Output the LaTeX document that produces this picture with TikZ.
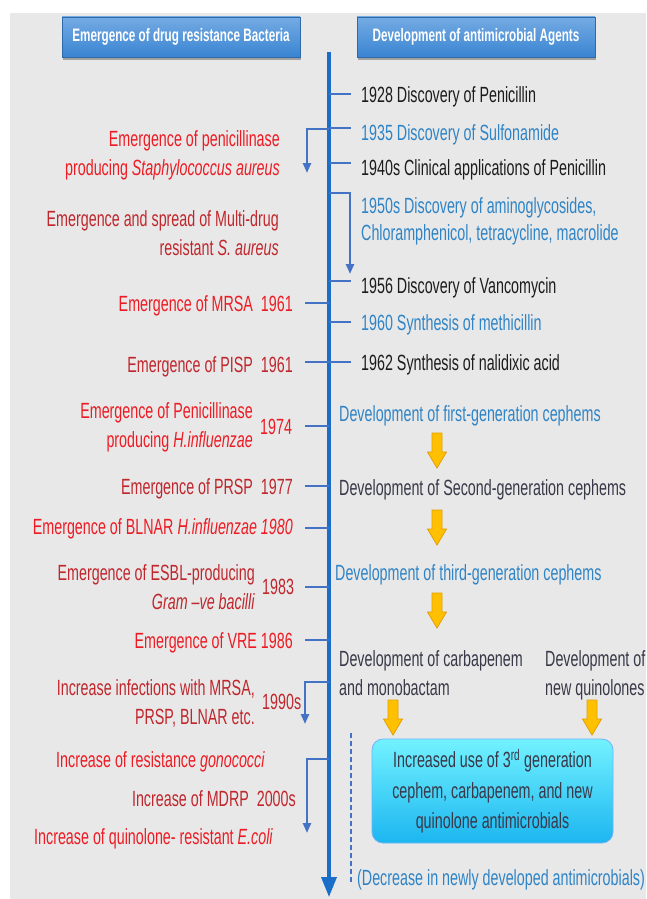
\documentclass[tikz,border=0pt]{standalone}
\usepackage{fontspec}
\setmainfont[FakeStretch=0.65]{Liberation Sans}
\usetikzlibrary{arrows.meta,shadows}
\definecolor{bgc}{HTML}{E8E8E8}
\definecolor{redA}{HTML}{ED1C24}
\definecolor{redB}{HTML}{C0272D}
\definecolor{bluT}{HTML}{2F84C6}
\definecolor{blkT}{HTML}{1C1C1C}
\definecolor{gryT}{HTML}{383848}
\definecolor{tlc}{HTML}{1A6EC8}
\definecolor{tkc}{HTML}{4472C4}
\definecolor{hdA}{HTML}{74ABE3}
\definecolor{hdB}{HTML}{3A84D2}
\definecolor{cyA}{HTML}{72F2FF}
\definecolor{cyB}{HTML}{1CB6F0}
\definecolor{yelA}{HTML}{FFC000}
\definecolor{yelB}{HTML}{E39E00}
\tikzset{
  txt/.style={font=\fontsize{22}{29}\selectfont, inner sep=0pt},
  lt/.style={txt, anchor=north east, align=right},
  rt/.style={txt, anchor=north west, align=left},
  tick/.style={draw=tkc, line width=2.8pt},
  brk/.style={draw=tkc, line width=2.4pt, -{Triangle[width=8pt,length=10pt]}},
  hdr/.style={minimum width=238pt, minimum height=40pt, inner sep=0pt,
    top color=hdA, bottom color=hdB, draw=hdB!80!black, line width=0.4pt,
    text=white, font=\bfseries\fontsize{18}{20}\selectfont,
    drop shadow={shadow xshift=1pt, shadow yshift=-3pt, opacity=0.45, fill=black!70}},
  incbox/.style={minimum width=241pt, minimum height=104pt, inner sep=0pt,
    rounded corners=11pt, top color=cyA, bottom color=cyB, draw=cyB!70!blue!60!white,
    line width=0.8pt, text=gryT, align=center, font=\fontsize{22}{30.5}\selectfont},
  yarrow/.pic={\filldraw[fill=yelA, draw=yelB, line width=0.8pt]
    (-5,0) -- (5,0) -- (5,19) -- (9.5,19) -- (0,35) -- (-9.5,19) -- (-5,19) -- cycle;}
}
\begin{document}
\begin{tikzpicture}[x=1pt,y=-1pt]
\useasboundingbox (0,0) rectangle (646,899);
\fill[bgc] (10,13) rectangle (646,899);

% headers
\node[hdr] (hL) at (181,37) {Emergence of drug resistance Bacteria};
\node[hdr] (hR) at (476,37) {Development of antimicrobial Agents};

% timeline
\coordinate (tlTop) at (329,52);
\coordinate (tlBot) at (329,897);
\draw[tlc, line width=3.6pt, -{Triangle[width=15pt,length=20pt]}] (tlTop) -- (tlBot);

% ticks right
\foreach \yy in {94,128,163,281,322} {\draw[tick] (329,\yy) -- (351,\yy);}
% ticks both
\draw[tick] (305,362) -- (351,362);
% ticks left
\foreach \yy in {303,426,486,528,587,640} {\draw[tick] (305,\yy) -- (329,\yy);}

% brackets
\draw[brk] (329,129) -- (307,129) -- (307,173);
\draw[brk] (329,193) -- (350,193) -- (350,274);
\draw[brk] (329,682) -- (305,682) -- (305,724);
\draw[brk] (329,759) -- (307,759) -- (307,833);

% left texts
\node[lt, text=redA] (l1) at (280,130) {Emergence of penicillinase\\producing \textit{Staphylococcus aureus}};
\node[lt, text=redB] (l2) at (279,210) {Emergence and spread of Multi-drug\\resistant \textit{S. aureus}};
\node[lt, text=redA] (l3) at (293,295) {Emergence of MRSA\ \ 1961};
\node[lt, text=redB] (l4) at (293,356) {Emergence of PISP\ \ 1961};
\node[lt, text=redA] (l5) at (253,402) {Emergence of Penicillinase\\producing \textit{H.influenzae}};
\node[rt, text=redA] (l5y) at (260,419) {1974};
\node[lt, text=redB] (l6) at (293,478) {Emergence of PRSP\ \ 1977};
\node[lt, text=redA] (l7) at (293,518) {Emergence of BLNAR \textit{H.influenzae 1980}};
\node[lt, text=redB] (l8) at (255,564) {Emergence of ESBL-producing\\\textit{Gram –ve bacilli}};
\node[rt, text=redB] (l8y) at (262,579) {1983};
\node[lt, text=redA] (l9) at (293,632) {Emergence of VRE 1986};
\node[lt, text=redB] (l10) at (255,679) {Increase infections with MRSA,\\PRSP, BLNAR etc.};
\node[rt, text=redB] (l10y) at (262,694) {1990s};
\node[rt, text=redA] (l11) at (56,751) {Increase of resistance \textit{gonococci}};
\node[lt, text=redB] (l12) at (296,790) {Increase of MDRP\ \ 2000s};
\node[rt, text=redA] (l13) at (34,828) {Increase of quinolone- resistant \textit{E.coli}};

% right texts
\node[rt, text=blkT] (r1) at (361,86) {1928 Discovery of Penicillin};
\node[rt, text=bluT] (r2) at (361,124) {1935 Discovery of Sulfonamide};
\node[rt, text=blkT] (r3) at (361,159) {1940s Clinical applications of Penicillin};
\node[rt, text=bluT, font=\fontsize{22}{27}\selectfont] (r4) at (361,197) {1950s Discovery of aminoglycosides,\\Chloramphenicol, tetracycline, macrolide};
\node[rt, text=blkT] (r5) at (361,277) {1956 Discovery of Vancomycin};
\node[rt, text=bluT] (r6) at (361,314) {1960 Synthesis of methicillin};
\node[rt, text=blkT] (r7) at (361,354) {1962 Synthesis of nalidixic acid};
\node[rt, text=bluT] (c1) at (339,405) {Development of first-generation cephems};
\node[rt, text=gryT] (c2) at (339,479) {Development of Second-generation cephems};
\node[rt, text=bluT] (c3) at (335,564) {Development of third-generation cephems};
\node[rt, text=gryT] (c4) at (339,650) {Development of carbapenem\\and monobactam};
\node[rt, text=gryT] (c5) at (545,650) {Development of\\new quinolones};

% yellow arrows
\pic at (437,433) {yarrow};
\pic at (437,510) {yarrow};
\pic at (437,593) {yarrow};
\pic at (393,700) {yarrow};
\pic at (592,700) {yarrow};

% result box
\node[incbox] (inc) at (492.5,791) {Increased use of 3\textsuperscript{rd} generation\\cephem, carbapenem, and new\\quinolone antimicrobials};

% dashed line and note
\coordinate (dA) at (351,733);
\coordinate (dB) at (351,884);
\draw[tkc, line width=1.6pt, dash pattern=on 5pt off 3pt] (dA) -- (dB);
\node[rt, text=bluT] (dec) at (357,869) {(Decrease in newly developed antimicrobials)};
\end{tikzpicture}
\end{document}
